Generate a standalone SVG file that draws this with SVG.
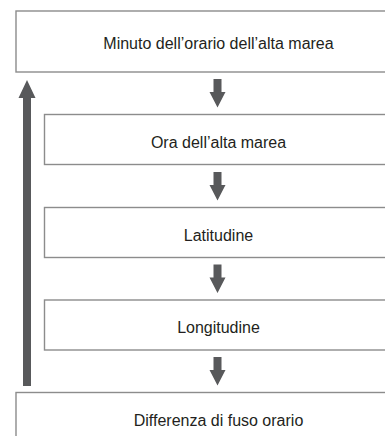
<svg xmlns="http://www.w3.org/2000/svg" width="385" height="436" viewBox="0 0 385 436">
<style>
.box{fill:#ffffff;stroke:#8c8c8c;stroke-width:1.4}
.lbl{font-family:"Liberation Sans",Arial,sans-serif;font-size:16px;fill:#231f20;text-anchor:middle}
.arr{fill:#58595b}
</style>
<rect width="385" height="436" fill="#ffffff"/>
<g id="node1"><rect class="box" x="16" y="11" width="400" height="61"/><text class="lbl" x="218.5" y="49">Minuto dell’orario dell’alta marea</text></g>
<g id="node2"><rect class="box" x="44.5" y="114.5" width="370" height="50"/><text class="lbl" x="218.5" y="147.5">Ora dell’alta marea</text></g>
<g id="node3"><rect class="box" x="44.5" y="207.5" width="370" height="50"/><text class="lbl" x="218.5" y="240.5">Latitudine</text></g>
<g id="node4"><rect class="box" x="44.5" y="300" width="370" height="50"/><text class="lbl" x="218.5" y="333">Longitudine</text></g>
<g id="node5"><rect class="box" x="16" y="392.5" width="400" height="60"/><text class="lbl" x="218.5" y="425.5">Differenza di fuso orario</text></g>
<g id="connectors">
<path class="arr" d="M213.5,79 h8 v13 h4 l-8,15.5 l-8,-15.5 h4 z"/>
<path class="arr" d="M213.5,172 h8 v13 h4 l-8,15.5 l-8,-15.5 h4 z"/>
<path class="arr" d="M213.5,264.5 h8 v13 h4 l-8,15.5 l-8,-15.5 h4 z"/>
<path class="arr" d="M213.5,357 h8 v13 h4 l-8,15.5 l-8,-15.5 h4 z"/>
<path class="arr" d="M23,386 v-288 h-4.5 l8.5,-18 l8.5,18 h-4.5 v288 z"/>
</g>
</svg>
